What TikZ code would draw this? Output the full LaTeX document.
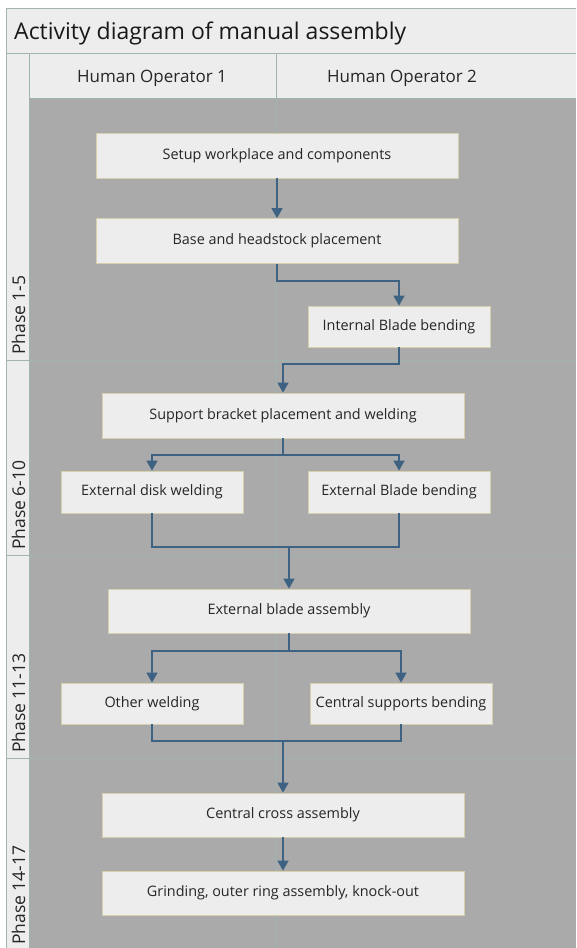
\documentclass[tikz,border=0pt]{standalone}
\usepackage{fontspec}
\setmainfont{Open Sans}
\usetikzlibrary{arrows.meta}

\definecolor{cellgrey}{HTML}{EDEDED}
\definecolor{lanegrey}{HTML}{AAAAAA}
\definecolor{gridline}{HTML}{9FB4B1}
\definecolor{boxline}{HTML}{D6CFAE}
\definecolor{flowblue}{HTML}{3E6282}

\begin{document}
\begin{tikzpicture}[x=1pt,y=-1pt,
    activity/.style={draw=boxline, fill=cellgrey, line width=0.8pt, inner sep=0pt,
      minimum height=45pt, text=black!85, font=\fontsize{14.4}{17}\selectfont},
    flow/.style={draw=flowblue, line width=1.5pt, -{Triangle[width=11pt,length=10pt]}},
    link/.style={draw=flowblue, line width=1.5pt},
    phaselabel/.style={rotate=90, anchor=base west, inner sep=0pt, text=black!85,
      font=\fontsize{17.5}{20}\selectfont},
    lanelabel/.style={anchor=base, inner sep=0pt, text=black!85,
      font=\fontsize{17}{20}\selectfont}]

  \useasboundingbox (0,0) rectangle (576,948);

  % Frame, title band and lanes
  \fill[white] (0,0) rectangle (576,948);
  \fill[cellgrey] (6,8) rectangle (576,98);
  \fill[cellgrey] (6,98) rectangle (29,948);
  \fill[lanegrey] (29,98) rectangle (576,948);
  \draw[gridline, line width=1pt] (6,948) -- (6,8) -- (576,8);
  \draw[gridline, line width=1pt] (6,53) -- (576,53);
  \draw[gridline, line width=1pt] (29,53) -- (29,948);
  \draw[gridline, line width=0.8pt] (29,98) -- (576,98);
  \draw[gridline, line width=0.8pt] (276,53) -- (276,948);

  % Phase separators
  \foreach \y in {360,555,758}
    \draw[gridline, line width=0.8pt] (6,\y) -- (576,\y);

  % Title and lane headers
  \node[anchor=base west, inner sep=0pt, text=black!90,
    font=\fontsize{23}{27}\selectfont] (title) at (14,39) {Activity diagram of manual assembly};
  \node[lanelabel] (op1) at (152,82) {Human Operator 1};
  \node[lanelabel] (op2) at (402,82) {Human Operator 2};

  % Phase labels
  \node[phaselabel] (ph1) at (25,355) {Phase 1-5};
  \node[phaselabel] (ph2) at (25,550) {Phase 6-10};
  \node[phaselabel] (ph3) at (25,753) {Phase 11-13};
  \node[phaselabel] (ph4) at (25,945) {Phase 14-17};

  % Activities
  \node[activity, minimum width=362pt] (setup) at (277,155.5) {Setup workplace and components};
  \node[activity, minimum width=362pt] (base) at (277,241) {Base and headstock placement};
  \node[activity, minimum width=182pt, minimum height=41pt] (internal) at (399,326.5) {Internal Blade bending};
  \node[activity, minimum width=362pt] (bracket) at (283,415.5) {Support bracket placement and welding};
  \node[activity, minimum width=182pt, minimum height=42pt] (disk) at (152,492) {External disk welding};
  \node[activity, minimum width=182pt, minimum height=42pt] (extblade) at (399,492) {External Blade bending};
  \node[activity, minimum width=362pt, minimum height=44pt] (bladeasm) at (289,611) {External blade assembly};
  \node[activity, minimum width=182pt, minimum height=41pt] (welding) at (152,703.5) {Other welding};
  \node[activity, minimum width=182pt, minimum height=41pt] (central) at (401,703.5) {Central supports bending};
  \node[activity, minimum width=362pt, minimum height=44pt] (cross) at (283,815) {Central cross assembly};
  \node[activity, minimum width=362pt, minimum height=44pt] (grinding) at (283,893) {Grinding, outer ring assembly, knock-out};

  % Bend, fork and join points
  \coordinate (bendA) at (277,281);
  \coordinate (bendB) at (399,364);
  \coordinate (forkA) at (283,455);
  \coordinate (joinA) at (289,547);
  \coordinate (forkB) at (289,651);
  \coordinate (joinB) at (283,741);

  % Control flow
  \draw[flow] (setup) -- (base);
  \draw[flow] (base.south) |- (bendA) -| (internal.north);
  \draw[flow] (internal.south) -- (bendB) -| (bracket.north);
  \draw[link] (bracket.south) -- (forkA);
  \draw[flow] (forkA) -| (disk.north);
  \draw[flow] (forkA) -| (extblade.north);
  \draw[link] (disk.south) |- (joinA) -| (extblade.south);
  \draw[flow] (joinA) -- (bladeasm.north);
  \draw[link] (bladeasm.south) -- (forkB);
  \draw[flow] (forkB) -| (welding.north);
  \draw[flow] (forkB) -| (central.north);
  \draw[link] (welding.south) |- (joinB) -| (central.south);
  \draw[flow] (joinB) -- (cross.north);
  \draw[flow] (cross) -- (grinding);

\end{tikzpicture}
\end{document}
